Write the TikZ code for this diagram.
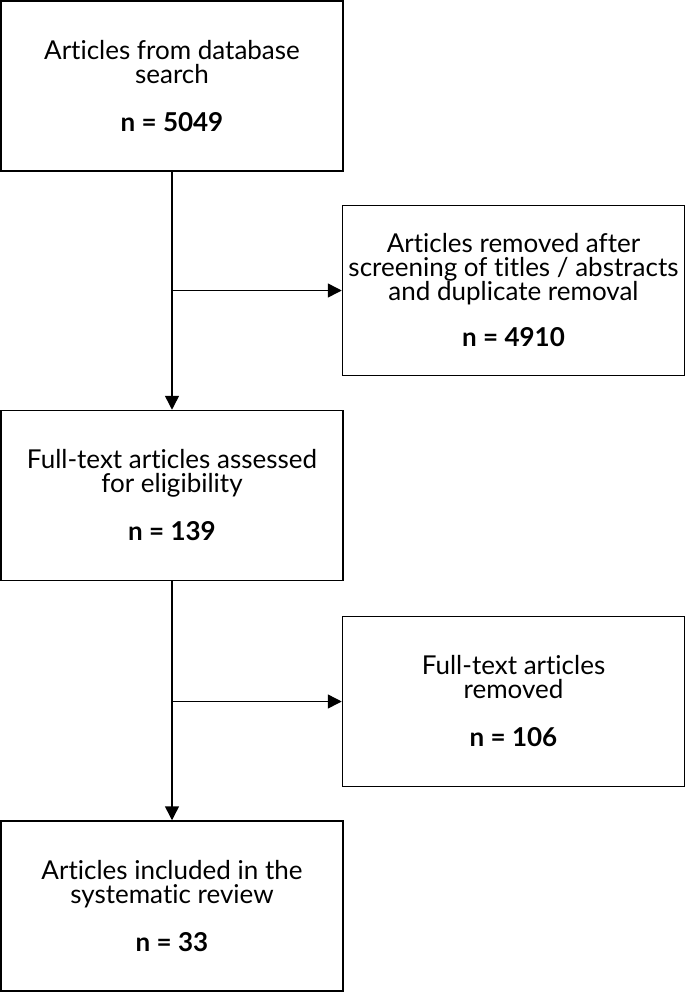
\documentclass[tikz,border=0pt]{standalone}
\usepackage{fontspec}
\setmainfont{Lato}[Ligatures={NoCommon,NoRare,NoDiscretionary}]
\usetikzlibrary{arrows.meta}
\begin{document}
\begin{tikzpicture}[x=1pt,y=-1pt,
  box/.style={draw, line width=1.5pt, minimum width=342pt, minimum height=170pt, align=center, inner sep=0pt, font=\fontsize{26}{24}\selectfont},
  arr/.style={line width=1.5pt, -{Triangle[length=14pt,width=14pt]}}]
\useasboundingbox (0,0) rectangle (685,993);
\node[box] (a) at (172,86) {Articles from database\\search\\[24pt]\textbf{n = 5049}};
\node[box] (b) at (513.5,290.5) {Articles removed after\\screening of titles / abstracts\\and duplicate removal\\[22pt]\textbf{n = 4910}};
\node[box] (c) at (172,495.5) {Full-text articles assessed\\for eligibility\\[24pt]\textbf{n = 139}};
\node[box] (d) at (513.5,701.5) {Full-text articles\\removed\\[24pt]\textbf{n = 106}};
\node[box] (e) at (172,906) {Articles included in the\\systematic review\\[24pt]\textbf{n = 33}};
\draw[arr] (a.south) -- (c.north);
\draw[arr] (a.south |- b.west) -- (b.west);
\draw[arr] (c.south) -- (e.north);
\draw[arr] (c.south |- d.west) -- (d.west);
\end{tikzpicture}
\end{document}
